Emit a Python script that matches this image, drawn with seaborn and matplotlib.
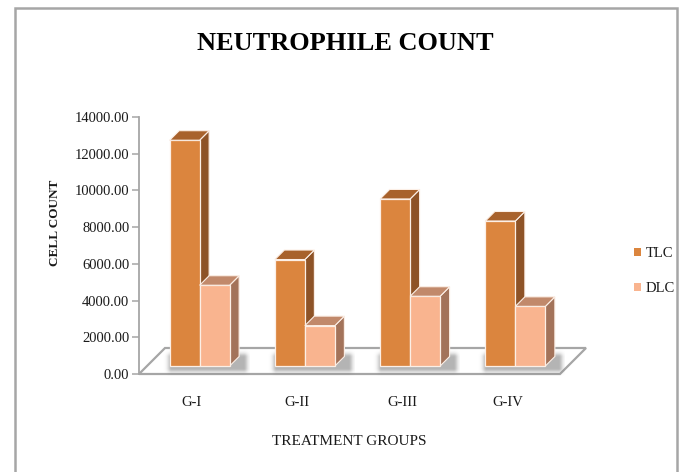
import numpy as np
import pandas as pd
import matplotlib
matplotlib.use("Agg")
import matplotlib.pyplot as plt
import seaborn as sns
from matplotlib.patches import Polygon, Patch, Rectangle
from matplotlib.transforms import ScaledTranslation

# ---- data -------------------------------------------------------------
groups = ["G-I", "G-II", "G-III", "G-IV"]
series = ["TLC", "DLC"]
tlc = [12300, 5800, 9100, 7900]
dlc = [4400, 2200, 3800, 3250]
yticks = np.arange(0, 14001, 2000)

df = pd.DataFrame({
    "group": groups * 2,
    "series": [series[0]] * len(groups) + [series[1]] * len(groups),
    "count": tlc + dlc,
})

# face colours: front / top / side
front = {"TLC": "#DB853E", "DLC": "#F9B48F"}
top = {"TLC": "#A8622C", "DLC": "#C1896B"}
side = {"TLC": "#8E5327", "DLC": "#A3735A"}
edge = "#FCEFE6"
grey = "#A6A6A6"
ink = "#1A1A1A"

sns.set_theme(style="white")
plt.rcParams["font.family"] = ["Liberation Serif", "DejaVu Serif"]

W, H, DPI = 679, 472, 100
fig = plt.figure(figsize=(W / DPI, H / DPI), dpi=DPI)


def frac(x0, y0, w, h):
    """pixel box (top-left origin) -> figure fraction box"""
    return [x0 / W, 1 - (y0 + h) / H, w / W, h / H]


ax_w, ax_h = 421, 257
ax = fig.add_axes(frac(139, 117, ax_w, ax_h))
XLIM, YLIM = (-0.5, 3.5), (0, 14000)

# pixel -> data unit factors
kx = 4.0 / ax_w
ky = 14000.0 / ax_h


def shift(dx, dy):
    return ScaledTranslation(dx / DPI, dy / DPI, fig.dpi_scale_trans)


FLOOR = 26   # depth of the floor, px
F0 = 8       # bars sit this far behind the front edge of the floor, px
D = 9.5      # depth of each bar, px

# floor slab
floor = Polygon([(-0.5, 0), (3.5, 0), (3.5 + FLOOR * kx, FLOOR * ky),
                 (-0.5 + FLOOR * kx, FLOOR * ky)],
                closed=True, facecolor="white", edgecolor=grey, lw=1.6,
                clip_on=False, zorder=0.5)
ax.add_patch(floor)

sns.barplot(data=df, x="group", y="count", hue="series", hue_order=series,
            palette=front, saturation=1, width=0.57, gap=0,
            edgecolor=edge, linewidth=0.9, legend=False, ax=ax, zorder=2)

bars = list(ax.patches[1:])  # first patch is the floor
n = len(groups)
bar_off = ax.transData + shift(F0, F0)


def soft_shadow(x0, x1, depth_px):
    """blurred grey footprint drawn on the floor beneath a pair of bars"""
    m = 10  # blur margin, px
    wpx = (x1 - x0) / kx
    nx, ny = int(wpx + 2 * m) * 2, int(depth_px + 2 * m) * 2
    xs = np.linspace(-m, wpx + m, nx)
    ys = np.linspace(depth_px + m, -m, ny)
    X, Y = np.meshgrid(xs, ys)
    # box shifted a little to the right / front
    bx0, bx1, by0, by1 = 1.5, wpx + 4.0, -2.5, depth_px - 1.0
    ddx = np.maximum(np.maximum(bx0 - X, X - bx1), 0)
    ddy = np.maximum(np.maximum(by0 - Y, Y - by1), 0)
    dist = np.hypot(ddx, ddy)
    alpha = 0.45 * np.exp(-(dist / 4.0) ** 2)
    img = np.zeros((ny, nx, 4))
    img[..., :3] = 0.35
    img[..., 3] = alpha
    ax.imshow(img, extent=[x0 - m * kx, x1 + m * kx, -m * ky, (depth_px + m) * ky],
              transform=bar_off, aspect="auto", interpolation="bilinear",
              zorder=1, clip_on=False)


for i, rect in enumerate(bars):
    s = series[i // n]
    z = 2 if s == "TLC" else 3
    x, w, h = rect.get_x(), rect.get_width(), rect.get_height()
    dx, dy = D * kx, D * ky

    if s == "TLC":
        soft_shadow(x, x + 2 * w + dx, D)

    rect.set_transform(bar_off)
    rect.set_zorder(z + 0.2)
    rect.set_clip_on(False)

    sd = Polygon([(x + w, 0), (x + w + dx, dy), (x + w + dx, h + dy), (x + w, h)],
                 closed=True, facecolor=side[s], edgecolor=edge, lw=0.8,
                 transform=bar_off, zorder=z, clip_on=False)
    tp = Polygon([(x, h), (x + w, h), (x + w + dx, h + dy), (x + dx, h + dy)],
                 closed=True, facecolor=top[s], edgecolor=edge, lw=0.8,
                 transform=bar_off, zorder=z + 0.3, clip_on=False)
    ax.add_patch(sd)
    ax.add_patch(tp)

ax.set_xlim(*XLIM)
ax.set_ylim(*YLIM)

# axes styling
for sp in ("top", "right", "bottom"):
    ax.spines[sp].set_visible(False)
ax.spines["left"].set_color(grey)
ax.spines["left"].set_linewidth(1.3)
ax.set_yticks(yticks)
ax.set_yticklabels([f"{v:.2f}" for v in yticks])
ax.tick_params(axis="y", left=True, length=5, width=1.1, color=grey,
               labelsize=10.5, labelcolor=ink, pad=2)
ax.tick_params(axis="x", bottom=False, length=0, labelsize=10.5,
               labelcolor=ink, pad=16)
ax.set_xlabel("TREATMENT GROUPS", fontsize=11, color=ink)
ax.xaxis.set_label_coords(0.5, (374 - 441.5) / ax_h)
ax.xaxis.label.set_va("center")
ax.set_ylabel("CELL COUNT", fontsize=9.5, fontweight="bold", color=ink)
ax.yaxis.set_label_coords((55 - 139) / ax_w, (374 - 223) / ax_h)
ax.yaxis.label.set_va("center")

fig.text(345 / W, 1 - 43 / H, "NEUTROPHILE COUNT", ha="center", va="center",
         fontsize=19, fontweight="bold", color="#000000")

handles = [Patch(facecolor=front[s], edgecolor="none", label=s) for s in series]
fig.legend(handles=handles, loc="center left",
           bbox_to_anchor=(621 / W, 1 - 271 / H), frameon=False,
           handlelength=0.5, handleheight=0.5, handletextpad=0.3,
           labelspacing=1.5, fontsize=10.5, labelcolor=ink)

# chart frame
fig.add_artist(Rectangle((15 / W, -0.1), (677 - 15) / W, 1.1 - 8 / H,
                         transform=fig.transFigure, fill=False,
                         edgecolor=grey, lw=1.8))

fig.savefig("out.png", dpi=DPI, facecolor="white")
